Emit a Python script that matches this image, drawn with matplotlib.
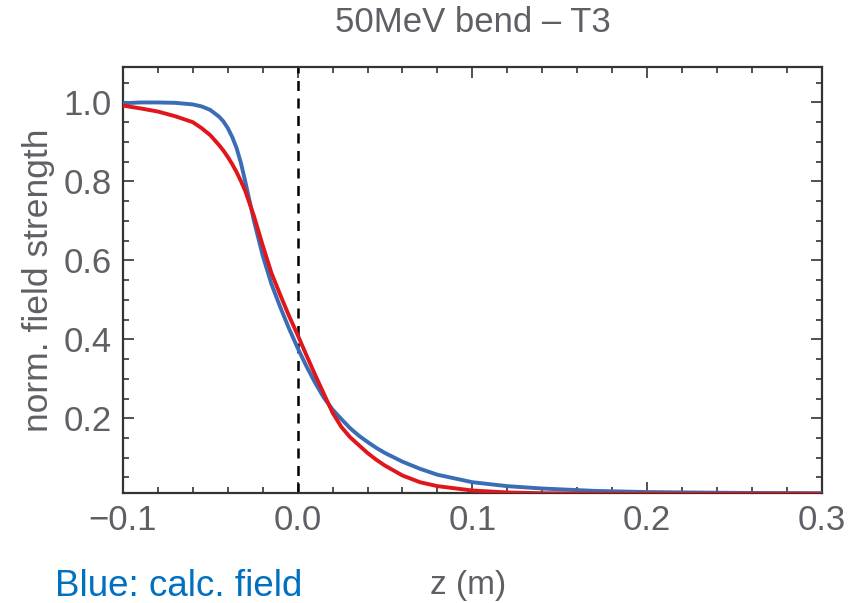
import matplotlib.pyplot as plt
from matplotlib.ticker import MultipleLocator, FixedLocator

plt.rcParams['font.family'] = ['Liberation Sans', 'DejaVu Sans']

# field profiles
z = [-0.10, -0.09, -0.08, -0.07, -0.06, -0.055, -0.05, -0.045, -0.0425,
     -0.04, -0.0375, -0.035, -0.0325, -0.03, -0.025, -0.02, -0.015, -0.01,
     -0.005, 0.0, 0.005, 0.01, 0.015, 0.02, 0.025, 0.03, 0.035, 0.04,
     0.045, 0.05, 0.06, 0.07, 0.08, 0.10, 0.12, 0.14, 0.17, 0.20, 0.25,
     0.30]
calc_field = [0.998, 1.0, 1.0, 0.999, 0.995, 0.99, 0.981, 0.964, 0.952,
              0.935, 0.913, 0.885, 0.847, 0.8, 0.7, 0.612, 0.54, 0.482,
              0.428, 0.378, 0.332, 0.29, 0.252, 0.222, 0.198, 0.175, 0.156,
              0.14, 0.125, 0.112, 0.09, 0.072, 0.057, 0.038, 0.028, 0.022,
              0.016, 0.013, 0.011, 0.010]
fit_field = [0.992, 0.985, 0.977, 0.965, 0.95, 0.935, 0.917, 0.892, 0.878,
             0.862, 0.844, 0.824, 0.801, 0.776, 0.712, 0.638, 0.568, 0.513,
             0.46, 0.411, 0.36, 0.31, 0.262, 0.214, 0.178, 0.152, 0.132,
             0.112, 0.095, 0.08, 0.055, 0.038, 0.028, 0.017, 0.012, 0.010,
             0.009, 0.009, 0.009, 0.009]

x_ticks = [-0.1, 0.0, 0.1, 0.2, 0.3]
x_labels = ['\u22120.1', '0.0', '0.1', '0.2', '0.3']
y_ticks = [0.2, 0.4, 0.6, 0.8, 1.0]

grey = '#5f5f66'

fig = plt.figure(figsize=(8.48, 6.03), dpi=100)
ax = fig.add_axes([0.145, 0.182, 0.824, 0.707])

ax.plot(z, calc_field, color='#3a6db5', lw=2.8, zorder=3)
ax.plot(z, fit_field, color='#e0161b', lw=2.8, zorder=4)
ax.axvline(0.0, color='black', lw=1.8, ls=(0, (4, 3)), zorder=2)

ax.set_xlim(-0.1, 0.3)
ax.set_ylim(0.01, 1.09)
ax.xaxis.set_major_locator(FixedLocator(x_ticks))
ax.set_xticklabels(x_labels)
ax.xaxis.set_minor_locator(MultipleLocator(0.02))
ax.yaxis.set_major_locator(FixedLocator(y_ticks))
ax.yaxis.set_minor_locator(MultipleLocator(0.05))

ax.tick_params(which='both', direction='in', top=True, right=True,
               colors='#333333', labelcolor=grey, labelsize=25, width=1.2)
ax.tick_params(which='major', length=8)
ax.tick_params(which='minor', length=4)
ax.tick_params(axis='x', which='major', pad=8)
ax.tick_params(axis='y', which='major', pad=8)
for s in ax.spines.values():
    s.set_color('#333333')
    s.set_linewidth(1.6)

ax.set_ylabel('norm. field strength', color=grey, fontsize=25.5, labelpad=6)
fig.text(0.558, 0.963, '50MeV bend \u2013 T3', color=grey, fontsize=25,
         ha='center', va='center')
fig.text(0.552, 0.015, 'z (m)', color=grey, fontsize=24,
         ha='center', va='baseline')
fig.text(0.065, 0.012, 'Blue: calc. field', color='#0070c0', fontsize=26.5,
         ha='left', va='baseline')

fig.savefig('out.png', dpi=100)
